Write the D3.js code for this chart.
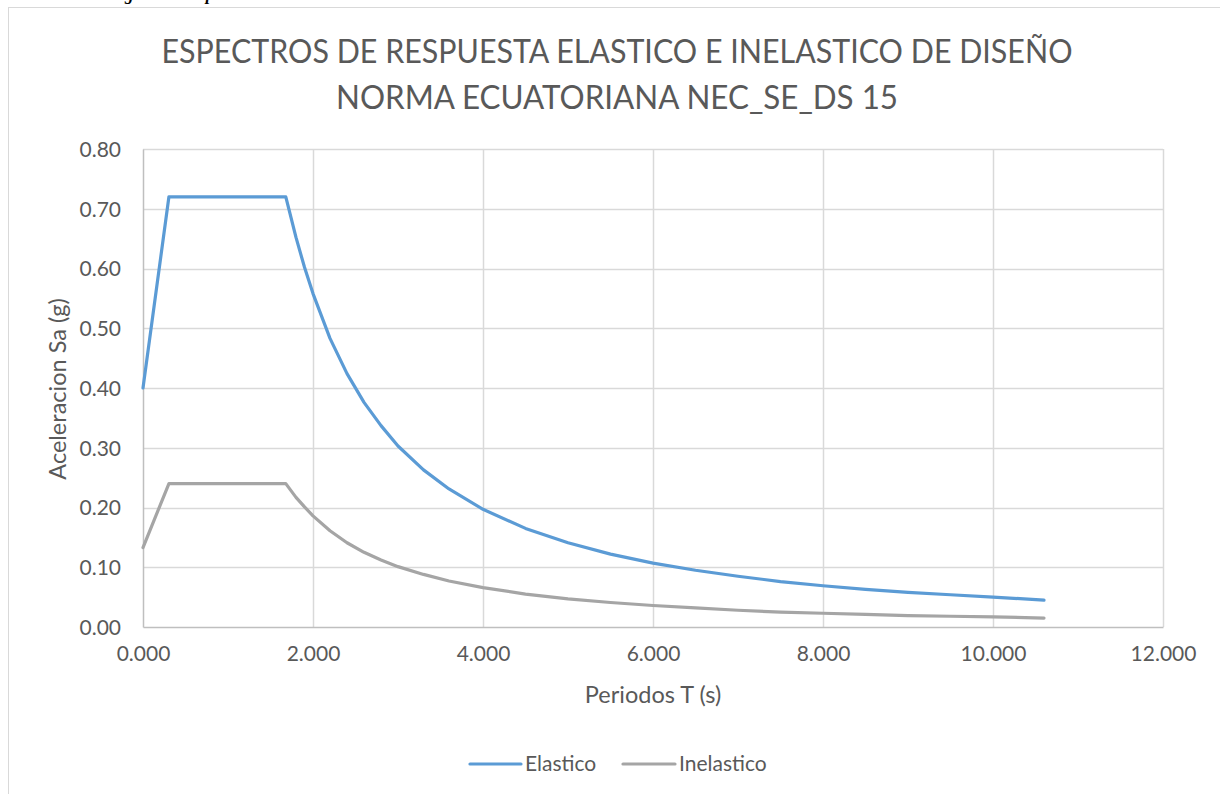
<!DOCTYPE html>
<html>
<head>
<meta charset="utf-8">
<script src="https://cdn.jsdelivr.net/npm/d3@7/dist/d3.min.js"></script>
<style>
  html, body { margin: 0; padding: 0; background: #ffffff; }
  svg { display: block; }
  text { font-family: Lato, "Open Sans", sans-serif; fill: #595959; }
</style>
</head>
<body>
<svg id="chart" width="1220" height="794"></svg>
<script>
// Periods T (s) and spectral accelerations Sa (g)
const periods   = [0, 0.305, 1.68, 1.8, 1.9, 2.0, 2.2, 2.4, 2.6, 2.8, 3.0, 3.3, 3.6, 4.0, 4.5, 5.0, 5.5, 6.0, 6.5, 7.0, 7.5, 8.0, 8.5, 9.0, 9.5, 10.0, 10.6];
const elastic   = [0.400, 0.720, 0.720, 0.652, 0.602, 0.558, 0.483, 0.424, 0.376, 0.337, 0.303, 0.263, 0.231, 0.197, 0.165, 0.141, 0.122, 0.107, 0.095, 0.085, 0.076, 0.069, 0.063, 0.058, 0.054, 0.050, 0.045];
const inelastic = [0.133, 0.240, 0.240, 0.217, 0.201, 0.186, 0.161, 0.141, 0.125, 0.112, 0.101, 0.088, 0.077, 0.066, 0.055, 0.047, 0.041, 0.036, 0.032, 0.028, 0.025, 0.023, 0.021, 0.019, 0.018, 0.017, 0.015];

const xTicks = [0, 2, 4, 6, 8, 10, 12];
const yTicks = [0, 0.1, 0.2, 0.3, 0.4, 0.5, 0.6, 0.7, 0.8];

const titleLines = ["ESPECTROS DE RESPUESTA ELASTICO E INELASTICO DE DISEÑO", "NORMA ECUATORIANA NEC_SE_DS 15"];
const titleWidths = [911, 562];
const xTitle = "Periodos T (s)";
const yTitle = "Aceleracion Sa (g)";
const seriesNames = ["Elastico", "Inelastico"];
const seriesColors = ["#5B9BD5", "#A5A5A5"];

const svg = d3.select("#chart");

// caption text above the chart box (partly cut off at the top edge)
svg.append("text")
  .attr("x", 109).attr("y", 0)
  .style("font-family", "'Liberation Serif', serif")
  .style("font-weight", "bold").style("font-style", "italic")
  .style("font-size", "17px").style("fill", "#000")
  .text("Figura 3.2 Espectros");

// chart box
svg.append("rect")
  .attr("x", 8.5).attr("y", 7.5).attr("width", 1240).attr("height", 820)
  .attr("fill", "#fff").attr("stroke", "#D9D9D9").attr("stroke-width", 1);

const plot = { left: 143, right: 1163, top: 149, bottom: 627 };

const x = d3.scaleLinear().domain([0, 12]).range([plot.left, plot.right]);
const y = d3.scaleLinear().domain([0, 0.8]).range([plot.bottom, plot.top]);

// gridlines
const g = svg.append("g");
g.selectAll("line.hgrid").data(yTicks.filter(d => d > 0)).join("line")
  .attr("class", "hgrid")
  .attr("x1", plot.left).attr("x2", plot.right)
  .attr("y1", d => Math.round(y(d)) + 0.5).attr("y2", d => Math.round(y(d)) + 0.5)
  .attr("stroke", "#D9D9D9").attr("stroke-width", 1.5);
g.selectAll("line.vgrid").data(xTicks.filter(d => d > 0)).join("line")
  .attr("class", "vgrid")
  .attr("y1", plot.top).attr("y2", plot.bottom)
  .attr("x1", d => Math.round(x(d)) + 0.5).attr("x2", d => Math.round(x(d)) + 0.5)
  .attr("stroke", "#D9D9D9").attr("stroke-width", 1.5);

// axes
const xAxis = d3.axisBottom(x).tickValues(xTicks).tickFormat(d3.format(".3f")).tickSize(0).tickPadding(19);
const yAxis = d3.axisLeft(y).tickValues(yTicks).tickFormat(d3.format(".2f")).tickSize(0).tickPadding(22);

const gx = svg.append("g").attr("transform", `translate(0,${plot.bottom})`).call(xAxis);
const gy = svg.append("g").attr("transform", `translate(${plot.left},0)`).call(yAxis);
[gx, gy].forEach(a => {
  a.select(".domain").attr("stroke", "#BFBFBF").attr("stroke-width", 1.5);
  a.selectAll("text").style("font-size", "21px").style("fill", "#595959")
    .style("font-family", "Lato, sans-serif");
});
gx.selectAll("text").attr("dy", "0.71em");
gy.selectAll("text").attr("dy", "0.35em");

// series lines
const line = d3.line().x(d => x(d[0])).y(d => y(d[1]));
[elastic, inelastic].forEach((vals, i) => {
  svg.append("path")
    .datum(periods.map((t, k) => [t, vals[k]]))
    .attr("d", line)
    .attr("fill", "none")
    .attr("stroke", seriesColors[i])
    .attr("stroke-width", 3.2)
    .attr("stroke-linejoin", "round")
    .attr("stroke-linecap", "round");
});

// title
svg.append("g").selectAll("text").data(titleLines).join("text")
  .attr("x", 617).attr("y", (d, i) => 63 + i * 46)
  .attr("text-anchor", "middle")
  .attr("textLength", (d, i) => titleWidths[i])
  .attr("lengthAdjust", "spacingAndGlyphs")
  .style("font-size", "32px")
  .text(d => d);

// axis titles
svg.append("text")
  .attr("x", 653).attr("y", 703)
  .attr("text-anchor", "middle")
  .style("font-size", "23.5px")
  .text(xTitle);
svg.append("text")
  .attr("transform", "translate(66,389) rotate(-90)")
  .attr("text-anchor", "middle")
  .style("font-size", "23.5px")
  .text(yTitle);

// legend
const legendItems = [
  { x1: 470, x2: 521, tx: 525 },
  { x1: 623, x2: 675, tx: 679 }
];
const lg = svg.append("g");
legendItems.forEach((it, i) => {
  lg.append("line")
    .attr("x1", it.x1).attr("x2", it.x2).attr("y1", 764).attr("y2", 764)
    .attr("stroke", seriesColors[i]).attr("stroke-width", 3.2)
    .attr("stroke-linecap", "round");
  lg.append("text")
    .attr("x", it.tx).attr("y", 764).attr("dy", "0.35em")
    .style("font-size", "21px")
    .text(seriesNames[i]);
});
</script>
</body>
</html>
